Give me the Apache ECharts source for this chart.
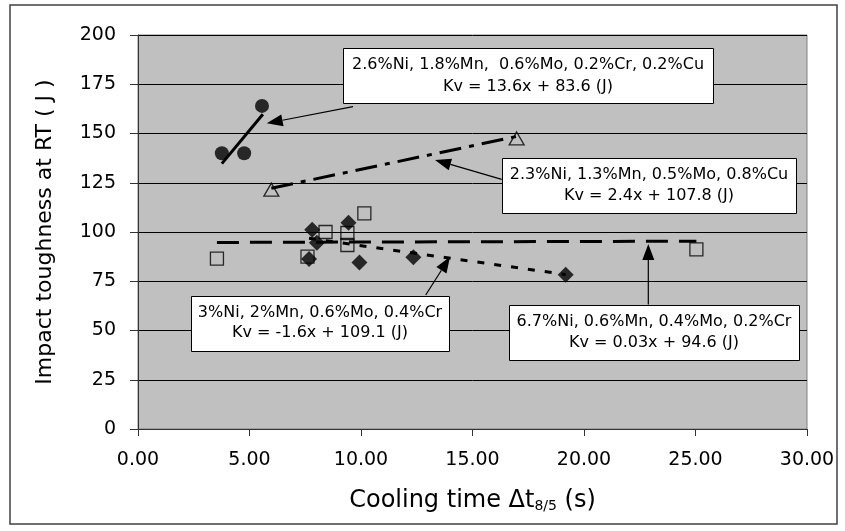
<!DOCTYPE html>
<html>
<head>
<meta charset="utf-8">
<script src="https://cdn.jsdelivr.net/npm/echarts@6/dist/echarts.min.js"></script>
<style>html,body{margin:0;padding:0;background:#fff;}#c{width:845px;height:531px;}</style>
</head>
<body>
<div id="c"></div>
<script>
// Data
const xTickLabels = ['0.00','5.00','10.00','15.00','20.00','25.00','30.00'];
const yTickLabels = ['0','25','50','75','100','125','150','175','200'];

// 2.6%Ni steel (filled circles)
const circles = [[3.76,140],[4.76,140],[5.56,164]];
// 2.3%Ni steel (open triangles)
const triangles = [[5.98,121.5],[16.98,147.5]];
// 3%Ni steel (filled diamonds)
const diamonds = [[7.67,86.3],[7.81,101.2],[8.02,94.5],[9.44,104.7],[9.93,84.5],[12.35,87.2],[19.18,78.3]];
// 6.7%Ni steel (open squares)
const squares = [[3.54,86.5],[7.6,87.5],[8.41,100],[9.39,99.5],[9.39,93.4],[10.15,109.5],[25.04,91.2]];

// Trend line end points
const trendCircles = [[3.76,134.7],[5.6,159.8]];
const trendTriangles = [[5.98,122.2],[16.98,148.5]];
const trendDiamonds = [[7.67,96.8],[19.18,78.4]];
const trendSquares = [[3.54,94.7],[25.04,95.35]];

// Annotation texts
const notes = [
  ['2.6%Ni, 1.8%Mn,  0.6%Mo, 0.2%Cr, 0.2%Cu', 'Kv = 13.6x + 83.6 (J)'],
  ['2.3%Ni, 1.3%Mn, 0.5%Mo, 0.8%Cu', 'Kv = 2.4x + 107.8 (J)'],
  ['3%Ni, 2%Mn, 0.6%Mo, 0.4%Cr', 'Kv = -1.6x + 109.1 (J)'],
  ['6.7%Ni, 0.6%Mn, 0.4%Mo, 0.2%Cr', 'Kv = 0.03x + 94.6 (J)']
];

const FONT = 'DejaVu Sans';
const chart = echarts.init(document.getElementById('c'));

// annotation boxes (pixel layout)
const boxes = [
  {x:343, y:48, w:370, h:55, l1:65, l2:87},
  {x:502, y:158, w:294, h:55, l1:174.5, l2:196},
  {x:191, y:296, w:258, h:55, l1:313, l2:333},
  {x:509, y:305, w:290, h:55, l1:322, l2:343}
];
const arrows = [
  [[353,106.7],[266.7,123.3]],
  [[501.7,179.3],[435,160]],
  [[425.7,295],[450,256.7]],
  [[648.3,304.5],[648.3,244]]
];

const graphics = [];
graphics.push({type:'rect', shape:{x:10,y:5,width:827,height:519}, style:{fill:'none', stroke:'#404040', lineWidth:1.5}, z:100, silent:true});
boxes.forEach((b,i)=>{
  graphics.push({type:'rect', shape:{x:b.x+0.5,y:b.y+0.5,width:b.w,height:b.h}, style:{fill:'#fff', stroke:'#000', lineWidth:1}, z:100});
  graphics.push({type:'text', x:b.x+b.w/2, y:b.l1, style:{text:notes[i][0], font:'16px "'+FONT+'"', fill:'#000', align:'center', verticalAlign:'middle'}, z:101});
  graphics.push({type:'text', x:b.x+b.w/2, y:b.l2, style:{text:notes[i][1], font:'16px "'+FONT+'"', fill:'#000', align:'center', verticalAlign:'middle'}, z:101});
});
arrows.forEach(a=>{
  const [s,t] = a;
  const dx = t[0]-s[0], dy = t[1]-s[1];
  const L = Math.sqrt(dx*dx+dy*dy);
  const ux = dx/L, uy = dy/L;
  const hl = 16, hw = 6;
  const bx = t[0]-ux*hl, by = t[1]-uy*hl;
  graphics.push({type:'line', shape:{x1:s[0],y1:s[1],x2:bx,y2:by}, style:{stroke:'#000', lineWidth:1.2}, z:100});
  graphics.push({type:'polygon', shape:{points:[[t[0],t[1]],[bx-uy*hw,by+ux*hw],[bx+uy*hw,by-ux*hw]]}, style:{fill:'#000'}, z:100});
});

const hollow = {color:'rgba(0,0,0,0)', borderColor:'#000', borderWidth:1.3};

chart.setOption({
  animation:false,
  backgroundColor:'#fff',
  grid:{left:138, right:38, top:35, bottom:102, show:true, backgroundColor:'#c0c0c0', borderColor:'#808080', borderWidth:1},
  xAxis:{
    type:'value', min:0, max:30, interval:5,
    name:'{a|Cooling time Δt}{b|8/5}{a| (s)}', nameLocation:'middle', nameGap:60,
    nameTextStyle:{rich:{a:{fontFamily:FONT, fontSize:24, color:'#000'}, b:{fontFamily:FONT, fontSize:14, color:'#000', padding:[10,0,0,0]}}},
    axisLine:{show:true, lineStyle:{color:'#333', width:1}},
    axisTick:{show:true, inside:false, length:7, lineStyle:{color:'#333'}},
    axisLabel:{fontFamily:FONT, fontSize:19, color:'#000', margin:22, formatter:(v)=>xTickLabels[Math.round(v/5)]},
    splitLine:{show:false}
  },
  yAxis:{
    type:'value', min:0, max:200, interval:25,
    name:'Impact toughness at RT ( J )', nameLocation:'middle', nameGap:82, nameRotate:90,
    nameTextStyle:{fontFamily:FONT, fontSize:22, color:'#000'},
    axisLine:{show:true, lineStyle:{color:'#333', width:1}},
    axisTick:{show:true, inside:false, length:8, lineStyle:{color:'#333'}},
    axisLabel:{fontFamily:FONT, fontSize:19, color:'#000', margin:22, formatter:(v)=>yTickLabels[Math.round(v/25)]},
    splitLine:{show:true, lineStyle:{color:'#000', width:1}}
  },
  series:[
    {type:'line', data:trendCircles, symbol:'none', lineStyle:{color:'#000', width:3, type:'solid'}, z:3, silent:true},
    {type:'line', data:trendTriangles, symbol:'none', lineStyle:{color:'#000', width:3, type:[22,8,5,8]}, z:3, silent:true},
    {type:'line', data:trendDiamonds, symbol:'none', lineStyle:{color:'#000', width:3, type:[7,10]}, z:3, silent:true},
    {type:'line', data:trendSquares, symbol:'none', lineStyle:{color:'#000', width:3, type:[22,11]}, z:3, silent:true},
    {type:'scatter', data:squares, symbol:'rect', symbolSize:13, itemStyle:hollow, z:4},
    {type:'scatter', data:diamonds, symbol:'diamond', symbolSize:[16,16], itemStyle:{color:'#000'}, z:4},
    {type:'scatter', data:triangles, symbol:'triangle', symbolSize:[15,13], itemStyle:hollow, z:4},
    {type:'scatter', data:circles, symbol:'circle', symbolSize:14, itemStyle:{color:'#000'}, z:4}
  ],
  graphic:graphics
});
</script>
</body>
</html>
